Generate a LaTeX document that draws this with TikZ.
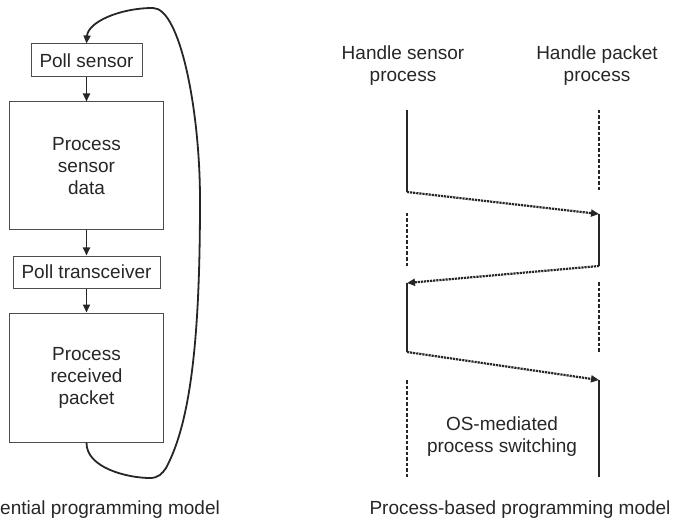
\documentclass[tikz,border=0pt]{standalone}
\usepackage{fontspec}
\setmainfont{Liberation Sans}
\usetikzlibrary{arrows.meta}
\begin{document}
\begin{tikzpicture}[x=1pt,y=-1pt,
  txt/.style={font=\fontsize{19}{22}\selectfont, align=center, inner sep=0pt, text=black!85},
  blk/.style={draw=black!70, line width=1pt, font=\fontsize{19}{22}\selectfont, align=center, text=black!85, inner sep=0pt},
  flow/.style={-{Triangle[length=8pt,width=7pt]}, line width=1.8pt, black!85},
  run/.style={line width=1.2pt, black!85},
  idle/.style={line width=1.6pt, black!85, dash pattern=on 3.5pt off 2pt},
  switch/.style={-{Triangle[length=8pt,width=7pt]}, line width=2.2pt, black!85, dash pattern=on 2.2pt off 0.9pt}]
\useasboundingbox (0,0) rectangle (674,521);

% sequential model: polling loop
\node[blk, minimum width=111pt, minimum height=33pt] (ps) at (86.5,60.5) {Poll sensor};
\node[blk, minimum width=154pt, minimum height=128pt] (pd) at (86.5,166) {Process\\sensor\\data};
\node[blk, minimum width=147pt, minimum height=32pt] (pt) at (86.5,272) {Poll transceiver};
\node[blk, minimum width=154pt, minimum height=129pt] (pr) at (86.5,377.5) {Process\\received\\packet};
\draw[flow] (ps) -- (pd);
\draw[flow] (pd) -- (pt);
\draw[flow] (pt) -- (pr);
\draw[flow] (pr.south) .. controls (86,468) and (128,478) .. (150,478)
  .. controls (158,478) and (162,474) .. (166,468)
  .. controls (192,420) and (200,330) .. (200,200)
  .. controls (200,110) and (180,8) .. (153,8)
  .. controls (120,8) and (88,22) .. (ps.north);
\node[txt, anchor=west] (cap1) at (0,510) {ential programming model};

% process-based model
\node[txt] (hs) at (403,66) {Handle sensor\\process};
\node[txt] (hp) at (597,66) {Handle packet\\process};
\coordinate (a1) at (407,110); \coordinate (b1) at (599,110);
\coordinate (a2) at (407,192); \coordinate (b2) at (599,190);
\coordinate (a3) at (407,213); \coordinate (b3) at (599,214);
\coordinate (a4) at (407,267); \coordinate (b4) at (599,266);
\coordinate (a5) at (407,283); \coordinate (b5) at (599,282);
\coordinate (a6) at (407,352); \coordinate (b6) at (599,352);
\coordinate (a7) at (407,380); \coordinate (b7) at (599,380);
\coordinate (a8) at (407,477); \coordinate (b8) at (599,477);
\draw[run] (a1) -- (a2);
\draw[idle] (b1) -- (b2);
\draw[switch] (a2) -- (b3);
\draw[idle] (a3) -- (a4);
\draw[run] (b3) -- (b4);
\draw[switch] (b4) -- (a5);
\draw[run] (a5) -- (a6);
\draw[idle] (b5) -- (b6);
\draw[switch] (a6) -- (b7);
\draw[idle] (a7) -- (a8);
\draw[run] (b7) -- (b8);
\node[txt] (os) at (502,437) {OS-mediated\\process switching};
\node[txt] (cap2) at (520,510) {Process-based programming model};
\end{tikzpicture}
\end{document}
